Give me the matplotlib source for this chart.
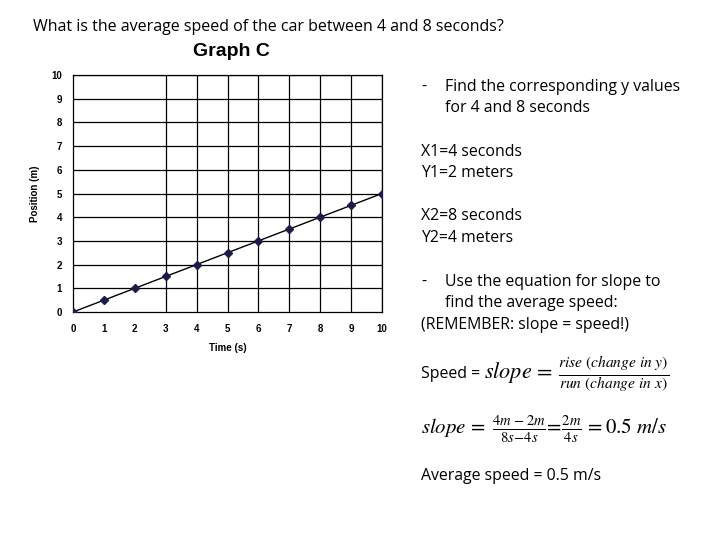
import numpy as np
import matplotlib
matplotlib.use("Agg")
import matplotlib.pyplot as plt

# position of the car versus time
time_s = [0, 1, 2, 3, 4, 5, 6, 7, 8, 9, 10]
position_m = [0, 0.5, 1, 1.5, 2, 2.5, 3, 3.5, 4, 4.5, 5]
x_ticks = [0, 1, 2, 3, 4, 5, 6, 7, 8, 9, 10]
y_ticks = [0, 1, 2, 3, 4, 5, 6, 7, 8, 9, 10]
x_grid = [3, 4, 5, 6, 7, 8, 9, 10]
y_grid = [1, 2, 3, 4, 5, 6, 7, 8, 9, 10]

question = "What is the average speed of the car between 4 and 8 seconds?"

plt.rcParams['mathtext.fontset'] = 'stix'

fig = plt.figure(figsize=(7.2, 5.4), dpi=100)
fig.patch.set_facecolor('white')

ax = fig.add_axes([73/720, 1-312/540, (382-73)/720, (312-75)/540])
for g in x_grid:
    ax.axvline(g, color='black', lw=0.9, zorder=1)
for g in y_grid:
    ax.axhline(g, color='black', lw=0.9, zorder=1)
ax.plot(time_s, position_m, color='black', lw=1.0, zorder=2)
ax.plot(time_s, position_m, ls='none', marker='D', ms=4.3, color='#1c1c4a', zorder=3)
ax.set_xlim(0, 10)
ax.set_ylim(0, 10)
ax.set_xticks(x_ticks)
ax.set_yticks(y_ticks)
ax.tick_params(length=0, labelsize=7)
ax.tick_params(axis='x', pad=9)
ax.tick_params(axis='y', pad=8)
for lab in ax.get_xticklabels() + ax.get_yticklabels():
    lab.set_fontweight('bold')
    lab.set_family('Liberation Sans')
for s in ax.spines.values():
    s.set_color('black')
    s.set_linewidth(0.9)
ax.set_xlabel('Time (s)', fontsize=7, fontweight='bold', family='Liberation Sans', labelpad=6)
ax.set_ylabel('Position (m)', fontsize=7, fontweight='bold', family='Liberation Sans', labelpad=8)

fig.text(231/720, 1-52/540, 'Graph C', fontsize=14, fontweight='bold', family='Liberation Sans',
         ha='center', va='center')
fig.text(33/720, 1-27/540, question, fontsize=11.5, family='Open Sans', ha='left', va='center')

tf = dict(fontsize=11.4, family='Open Sans', va='center', ha='left')
lines = [
    (421, 87, '-'), (445, 87, 'Find the corresponding y values'),
    (445, 108, 'for 4 and 8 seconds'),
    (421, 152, 'X1=4 seconds'), (421, 173, 'Y1=2 meters'),
    (421, 216, 'X2=8 seconds'), (421, 238, 'Y2=4 meters'),
    (421, 282, '-'), (445, 282, 'Use the equation for slope to'),
    (445, 303, 'find the average speed:'),
    (421, 325, '(REMEMBER: slope = speed!)'),
    (421, 476, 'Average speed = 0.5 m/s'),
]
for x, y, t in lines:
    fig.text(x/720, 1-y/540, t, **tf)

fig.text(421/720, 1-374/540, 'Speed = ', **tf)
fig.text(484/720, 1-374/540,
         r'$slope\,=\,\frac{rise\ (change\ in\ y)}{run\ (change\ in\ x)}$',
         fontsize=16, va='center', ha='left')
fig.text(421/720, 1-429/540,
         r'$slope\,=\;\frac{4m\,-2m}{8s\!-\!4s}\!=\!\frac{2m}{4s}\,=0.5\ m/s$',
         fontsize=15, va='center', ha='left')

fig.savefig('out.png', dpi=100)
